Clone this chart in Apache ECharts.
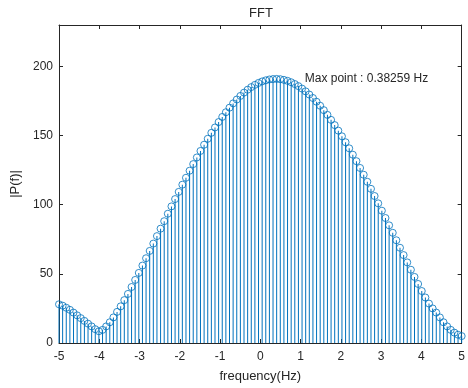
<!DOCTYPE html>
<html>
<head>
<meta charset="utf-8">
<script src="https://cdn.jsdelivr.net/npm/echarts@6/dist/echarts.min.js"></script>
<style>
html,body{margin:0;padding:0;background:#fff;}
#chart{width:468px;height:388px;}
</style>
</head>
<body>
<div id="chart"></div>
<script>
// ---- data ----
const titleText = 'FFT';
const xName = 'frequency(Hz)';
const yName = '|P(f)|';
const freqMin = -5;
const freqMax = 5;
const xTicks = [-5, -4, -3, -2, -1, 0, 1, 2, 3, 4, 5];
const yTicks = [0, 50, 100, 150, 200];
const magnitude = [
  28, 27, 25.5, 24, 22, 20, 18, 16, 14, 12, 10, 8.5,
  9.5, 12, 15, 18.5, 22.5, 26.5, 31, 35.5, 40.5, 45.6,
  50.7, 56.0, 61.3, 66.6, 71.9, 77.3, 82.7, 88.1, 93.5, 98.8,
  104.1, 109.3, 114.5, 119.5, 124.6, 129.4, 134.2, 138.9, 143.4, 147.7,
  152.0, 155.9, 159.8, 163.5, 166.9, 170.2, 173.3, 176.1, 178.7, 181.1,
  183.2, 185.1, 186.7, 188.1, 189.2, 190.0, 190.6, 190.9, 191.0, 190.8,
  190.3, 189.6, 188.6, 187.3, 185.8, 184.0, 182.0, 179.7, 177.2, 174.5,
  171.6, 168.4, 165.0, 161.4, 157.6, 153.6, 149.5, 145.2, 140.8, 136.2,
  131.5, 126.6, 121.7, 116.6, 111.5, 106.3, 101.0, 95.7, 90.4, 85.1,
  79.7, 74.3, 68.9, 63.6, 58.3, 53.0, 47.8, 42.7, 37.6, 32.9,
  28.5, 25, 22, 18.5, 15, 12, 9.5, 7.5, 6, 5
];
const annoText = 'Max point : 0.38259 Hz';
const annoX = 1.09;
const annoY = 191;

// ---- build ----
const n = magnitude.length;
const points = magnitude.map((v, i) => [freqMin + i * (freqMax - freqMin) / (n - 1), v]);

const FONT = '"Liberation Sans", Arial, Helvetica, sans-serif';
const AX = '#262626';
const BLUE = '#0072BD';

const chart = echarts.init(document.getElementById('chart'), null, {renderer: 'canvas'});

function xAxisCfg(pos, showLabel) {
  return {
    type: 'value', position: pos, min: freqMin, max: freqMax, interval: 1,
    axisLine: {show: true, onZero: false, lineStyle: {color: AX, width: 1}},
    axisTick: {show: true, inside: true, length: 4, lineStyle: {color: AX}},
    axisLabel: {show: showLabel, color: AX, fontSize: 12, fontFamily: FONT, margin: 8},
    splitLine: {show: false}
  };
}
function yAxisCfg(pos, showLabel) {
  return {
    type: 'value', position: pos, min: 0, max: 230, interval: 50,
    axisLine: {show: true, onZero: false, lineStyle: {color: AX, width: 1}},
    axisTick: {show: true, inside: true, length: 4, lineStyle: {color: AX}},
    axisLabel: {show: showLabel, color: AX, fontSize: 12, fontFamily: FONT, margin: 6,
      formatter: v => (yTicks.indexOf(v) >= 0 ? String(v) : '')},
    splitLine: {show: false}
  };
}

const xBottom = xAxisCfg('bottom', true);
xBottom.name = xName;
xBottom.nameLocation = 'middle';
xBottom.nameGap = 27;
xBottom.nameTextStyle = {color: AX, fontSize: 13, fontFamily: FONT};
xBottom.axisLabel.formatter = v => (xTicks.indexOf(v) >= 0 ? String(v) : '');

const yLeft = yAxisCfg('left', true);
yLeft.name = yName;
yLeft.nameLocation = 'middle';
yLeft.nameGap = 28;
yLeft.nameRotate = 90;
yLeft.nameTextStyle = {color: AX, fontSize: 13, fontFamily: FONT};

chart.setOption({
  animation: false,
  backgroundColor: '#fff',
  title: {
    text: titleText, left: 249, top: 7, padding: 0,
    textStyle: {color: AX, fontSize: 13, fontWeight: 'normal', fontFamily: FONT}
  },
  grid: {left: 59, right: 5, top: 25, bottom: 41, containLabel: false},
  xAxis: [xBottom, xAxisCfg('top', false)],
  yAxis: [yLeft, yAxisCfg('right', false)],
  series: [
    {
      type: 'bar', xAxisIndex: 0, yAxisIndex: 0,
      data: points, barWidth: 1,
      itemStyle: {color: BLUE},
      silent: true
    },
    {
      type: 'scatter', xAxisIndex: 0, yAxisIndex: 0,
      data: points, symbol: 'circle', symbolSize: 7,
      itemStyle: {color: 'rgba(255,255,255,0)', borderColor: BLUE, borderWidth: 1},
      silent: true,
      markPoint: {
        symbol: 'circle', symbolSize: 1,
        itemStyle: {color: 'rgba(0,0,0,0)'},
        label: {show: true, position: 'right', distance: 0, formatter: annoText,
          color: AX, fontSize: 12, fontFamily: FONT},
        data: [{coord: [annoX, annoY]}]
      }
    }
  ]
});
</script>
</body>
</html>
